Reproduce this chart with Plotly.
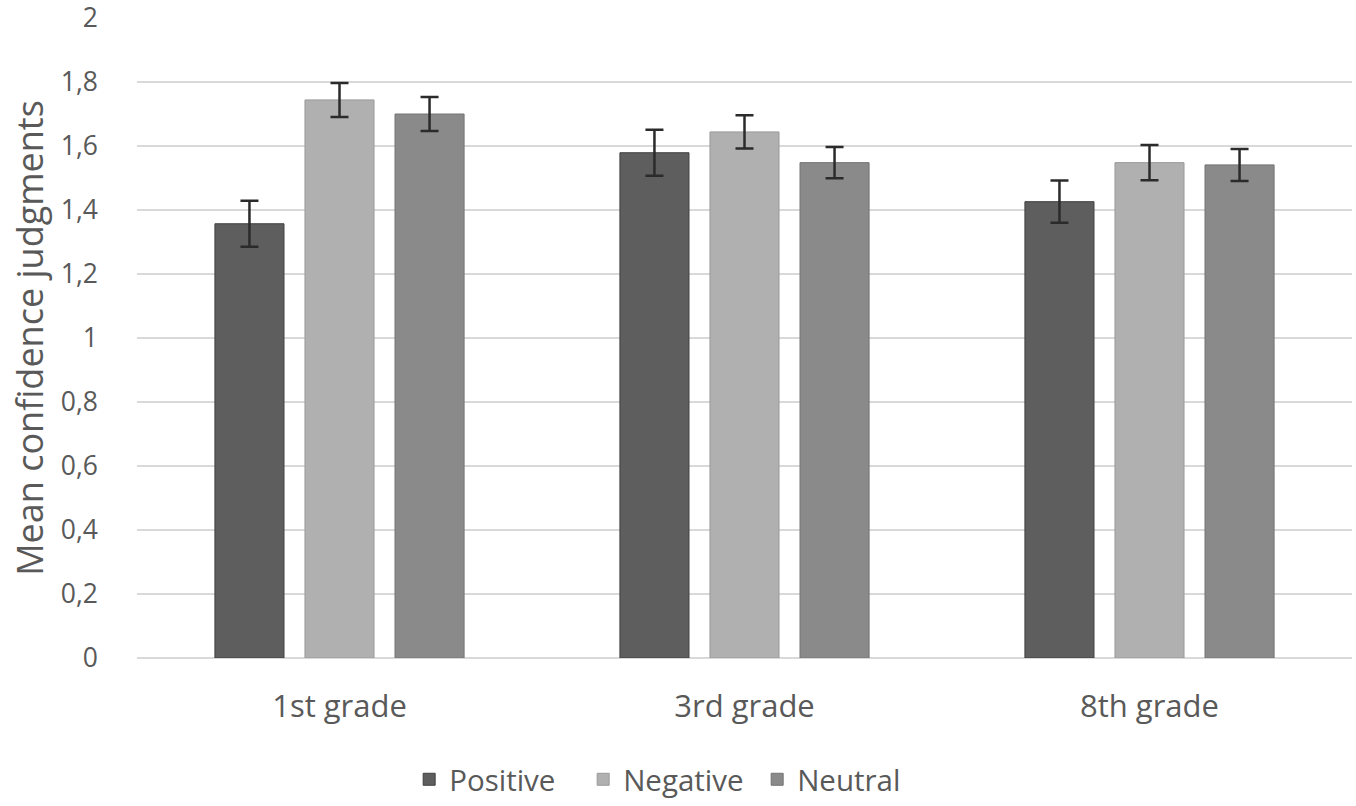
import plotly.graph_objects as go

categories = ["1st grade", "3rd grade", "8th grade"]
series_names = ["Positive", "Negative", "Neutral"]
positive = [1.357, 1.579, 1.426]
negative = [1.744, 1.644, 1.548]
neutral = [1.700, 1.548, 1.541]
positive_err = [0.072, 0.072, 0.066]
negative_err = [0.053, 0.052, 0.055]
neutral_err = [0.053, 0.049, 0.050]
y_ticks = [0, 0.2, 0.4, 0.6, 0.8, 1.0, 1.2, 1.4, 1.6, 1.8, 2.0]

colors = ["#5e5e5e", "#b0b0b0", "#8a8a8a"]
outline = ["#404040", "#9a9a9a", "#747474"]
values = [positive, negative, neutral]
errors = [positive_err, negative_err, neutral_err]

FONT = "Open Sans"
TXT = "#595959"

fig = go.Figure()
for name, vals, errs, c, oc in zip(series_names, values, errors, colors, outline):
    fig.add_trace(go.Bar(
        x=categories, y=vals, name=name,
        marker=dict(color=c, line=dict(color=oc, width=1)),
        error_y=dict(type="data", array=errs, visible=True,
                     color="#2b2b2b", thickness=2.5, width=9),
    ))

fig.update_layout(
    width=1356, height=806,
    paper_bgcolor="white", plot_bgcolor="white",
    separators=",.",
    barmode="group", bargap=0.333, bargroupgap=0.233,
    margin=dict(l=137, r=4, t=18, b=148, autoexpand=False),
    font=dict(family=FONT, color=TXT),
    showlegend=True,
    legend=dict(orientation="h", x=0.224, xanchor="left", xref="paper",
                y=-0.19, yanchor="middle",
                font=dict(size=29.5, color=TXT, family=FONT),
                itemwidth=30, entrywidth=129, entrywidthmode="pixels",
                traceorder="normal"),
    xaxis=dict(showgrid=False, showline=False, zeroline=False,
               tickfont=dict(size=31, color=TXT, family=FONT),
               ticks="", ticklabelstandoff=27),
    yaxis=dict(range=[0, 2], tickvals=y_ticks,
               showgrid=True, gridcolor="#d9d9d9", gridwidth=1.5,
               zeroline=True, zerolinecolor="#d9d9d9", zerolinewidth=1.5,
               showline=False, ticks="", ticklabeloverflow="allow",
               tickfont=dict(size=26.5, color=TXT, family=FONT),
               ticklabelstandoff=38,
               title=dict(text="Mean confidence judgments",
                          font=dict(size=36, color=TXT, family=FONT),
                          standoff=6)),
)

fig.write_html("out.html", config={"displayModeBar": False},
               post_script="document.body.style.margin='0px';")
